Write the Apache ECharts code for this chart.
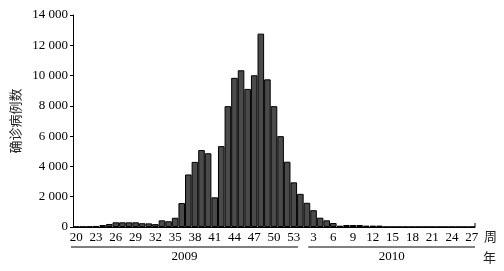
<!DOCTYPE html>
<html>
<head>
<meta charset="utf-8">
<script src="https://cdn.jsdelivr.net/npm/echarts@6/dist/echarts.min.js"></script>
<style>
  html, body { margin: 0; padding: 0; background: #fff; }
  #chart { width: 504px; height: 271px; }
</style>
</head>
<body>
<div id="chart"></div>
<script>
  // 周次
  var weeks2009 = [20, 21, 22, 23, 24, 25, 26, 27, 28, 29, 30, 31, 32, 33, 34, 35, 36,
    37, 38, 39, 40, 41, 42, 43, 44, 45, 46, 47, 48, 49, 50, 51, 52, 53];
  var weeks2010 = [1, 2, 3, 4, 5, 6, 7, 8, 9, 10, 11, 12, 13, 14, 15, 16, 17, 18, 19,
    20, 21, 22, 23, 24, 25, 26, 27];
  // 确诊病例数
  var cases2009 = [20, 20, 30, 70, 130, 200, 310, 310, 310, 310, 250, 240, 190, 440, 380,
    610, 1580, 3470, 4300, 5080, 4870, 1960, 5340, 7980, 9850, 10350, 9120, 10020,
    12770, 9750, 7980, 6000, 4310, 2950];
  var cases2010 = [2190, 1600, 1110, 615, 440, 264, 86, 130, 130, 130, 90, 90, 90, 10,
    10, 10, 10, 10, 10, 10, 10, 10, 10, 10, 10, 10, 10];
  var years = ['2009', '2010'];
  var yTicks = [0, 2000, 4000, 6000, 8000, 10000, 12000, 14000];

  var serif = 'Liberation Serif';
  var categories = weeks2009.concat(weeks2010).map(String);
  var values = cases2009.concat(cases2010);

  var myChart = echarts.init(document.getElementById('chart'));
  myChart.setOption({
    animation: false,
    grid: {
      left: 73,
      right: 29,
      top: 15,
      bottom: 44,
      containLabel: false
    },
    xAxis: {
      type: 'category',
      data: categories,
      name: '周',
      nameLocation: 'end',
      nameGap: 8,
      nameTextStyle: {
        color: '#222',
        fontFamily: 'Noto Sans CJK SC',
        fontSize: 13,
        verticalAlign: 'top',
        padding: [3, 0, 0, 0]
      },
      axisLine: {
        lineStyle: { color: '#000', width: 1 }
      },
      axisTick: { show: false },
      axisLabel: {
        interval: 2,
        margin: 4,
        color: '#000',
        fontFamily: serif,
        fontSize: 13
      }
    },
    yAxis: {
      type: 'value',
      min: yTicks[0],
      max: yTicks[yTicks.length - 1],
      interval: 2000,
      name: '确诊病例数',
      nameLocation: 'middle',
      nameGap: 47,
      nameRotate: 90,
      nameTextStyle: {
        color: '#222',
        fontFamily: 'Noto Sans CJK SC',
        fontSize: 13
      },
      axisLine: {
        show: true,
        lineStyle: { color: '#000', width: 1 }
      },
      axisTick: {
        show: true,
        length: 3,
        lineStyle: { color: '#000' }
      },
      axisLabel: {
        margin: 5,
        color: '#000',
        fontFamily: serif,
        fontSize: 13,
        formatter: function (v) {
          return String(v).replace(/\B(?=(\d{3})+(?!\d))/g, ' ');
        }
      },
      splitLine: { show: false }
    },
    series: [{
      type: 'bar',
      data: values,
      barCategoryGap: 0,
      itemStyle: {
        color: '#4a4a4a',
        borderColor: '#000',
        borderWidth: 1
      }
    }]
  });

  // 年份分隔线与标注（位置由坐标轴换算）
  var x0 = myChart.convertToPixel({ xAxisIndex: 0 }, 0);
  var x1 = myChart.convertToPixel({ xAxisIndex: 0 }, 1);
  var band = x1 - x0;
  var n09 = weeks2009.length;
  var last = categories.length - 1;
  var yBase = myChart.convertToPixel({ yAxisIndex: 0 }, 0);
  var a0 = x0 - band / 2 - 2;
  var a1 = myChart.convertToPixel({ xAxisIndex: 0 }, n09 - 1) + band / 2 + 1;
  var b0 = myChart.convertToPixel({ xAxisIndex: 0 }, n09) + band * 1.2;
  var b1 = myChart.convertToPixel({ xAxisIndex: 0 }, last) + band / 2;
  var lineY = yBase + 20;
  var lineStyle = { stroke: '#000', lineWidth: 1 };
  var textStyle = { fill: '#000', font: '13px ' + serif, align: 'center', verticalAlign: 'middle' };

  myChart.setOption({
    graphic: [
      { type: 'line', shape: { x1: a0, y1: lineY, x2: a1, y2: lineY }, style: lineStyle },
      { type: 'line', shape: { x1: b0, y1: lineY, x2: b1, y2: lineY }, style: lineStyle },
      { type: 'line', shape: { x1: b1, y1: yBase, x2: b1, y2: yBase - 4 }, style: lineStyle },
      { type: 'text', x: (a0 + a1) / 2, y: lineY + 10, style: Object.assign({ text: years[0] }, textStyle) },
      { type: 'text', x: (b0 + b1) / 2, y: lineY + 10, style: Object.assign({ text: years[1] }, textStyle) },
      {
        type: 'text', x: b1 + 8, y: lineY + 10,
        style: { text: '年', fill: '#222', font: '13px "Noto Sans CJK SC"', align: 'left', verticalAlign: 'middle' }
      }
    ]
  });
</script>
</body>
</html>
